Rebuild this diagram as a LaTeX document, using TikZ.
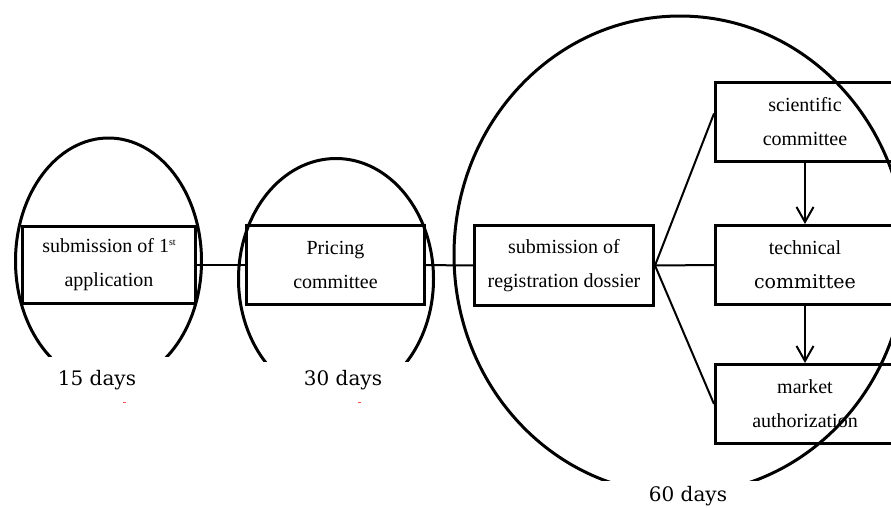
\documentclass[tikz,border=0pt]{standalone}
\usepackage{fontspec}
\setmainfont{Liberation Serif}
\newfontfamily\wideserif{DejaVu Serif}
\usetikzlibrary{arrows.meta,positioning}
\tikzset{
    stage/.style={draw, line width=3pt, inner sep=0pt, align=center,
      minimum width=179pt, minimum height=79pt,
      font=\fontsize{20}{34}\selectfont},
    ring/.style={line width=3pt},
    link/.style={line width=2pt},
    flow/.style={line width=2pt, -{Straight Barb[length=15pt, width=17pt]}},
    days/.style={font=\wideserif\fontsize{20}{24}\selectfont}
}
\begin{document}
\begin{tikzpicture}[x=1pt, y=-1pt]
\clip (0,0) rectangle (891,507);
\fill[white] (0,0) rectangle (891,507);
% time frames
\draw[ring] (108.5,261) ellipse [x radius=93, y radius=123];
\draw[ring] (336,279) ellipse [x radius=97.5, y radius=120.5];
\draw[ring] (680,255) ellipse [x radius=226, y radius=239];
\fill[white] (35,357) rectangle (185,395);
\fill[white] (250,362) rectangle (425,408);
\fill[white] (590,481) rectangle (775,507);
% steps
\node[stage, minimum width=173pt, minimum height=77pt] (app) at (109,265) {submission of 1\raisebox{7pt}{\fontsize{10}{10}\selectfont st}\\application};
\node[stage, minimum width=178pt] (price) at (335.5,265) {Pricing\\committee};
\node[stage, minimum height=80pt] (dossier) at (564,265.5) {submission of\\registration dossier};
\node[stage] (sci) at (805,121.5) {scientific\\committee};
\node[stage] (tech) at (805,265) {technical\\{\wideserif\fontsize{19}{34}\selectfont committee}};
\node[stage] (market) at (805,404) {market\\authorization};
% connectors
\draw[link] (app) -- (price);
\draw[link] (price) -- (dossier);
\draw[link] (dossier.east) -- ([yshift=8pt]sci.west);
\draw[link] (dossier.east) -- (tech.west);
\draw[link] (dossier.east) -- (market.west);
\draw[flow] (sci) -- (tech);
\draw[flow] (tech) -- (market);
% durations
\node[days] (d15) at (97,380) {15 days};
\node[days] (d30) at (343,380) {30 days};
\node[days] (d60) at (688,496) {60 days};
\draw[red!70, line width=0.7pt] (123,402) -- (126,402);
\draw[red!70, line width=0.7pt] (358,402) -- (361,402);
\end{tikzpicture}
\end{document}
